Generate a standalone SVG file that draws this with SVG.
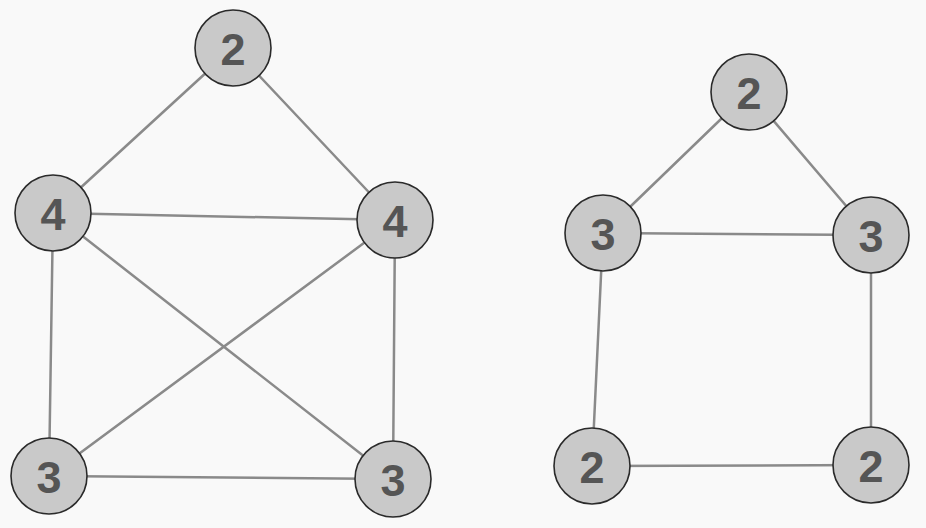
<svg xmlns="http://www.w3.org/2000/svg" width="926" height="528" viewBox="0 0 926 528">
<style>
.edge{stroke:#8a8a8a;stroke-width:2.5;fill:none;stroke-linecap:round}
.node circle{fill:#c9c9c9;stroke:#2a2a2a;stroke-width:1.6}
.node text{font-family:"Liberation Sans",Arial,sans-serif;font-weight:bold;font-size:45px;fill:#555;text-anchor:middle;dominant-baseline:central}
</style>
<rect width="926" height="528" fill="#f9f9f9"/>
<g id="connectors">
<line class="edge" x1="233" y1="48" x2="53" y2="213"/>
<line class="edge" x1="233" y1="48" x2="395" y2="220"/>
<line class="edge" x1="53" y1="213" x2="395" y2="220"/>
<line class="edge" x1="53" y1="213" x2="49" y2="476"/>
<line class="edge" x1="53" y1="213" x2="393" y2="479"/>
<line class="edge" x1="395" y1="220" x2="49" y2="476"/>
<line class="edge" x1="395" y1="220" x2="393" y2="479"/>
<line class="edge" x1="49" y1="476" x2="393" y2="479"/>
<line class="edge" x1="749" y1="92" x2="603" y2="233"/>
<line class="edge" x1="749" y1="92" x2="871" y2="235"/>
<line class="edge" x1="603" y1="233" x2="871" y2="235"/>
<line class="edge" x1="603" y1="233" x2="592" y2="466"/>
<line class="edge" x1="871" y1="235" x2="871" y2="465"/>
<line class="edge" x1="592" y1="466" x2="871" y2="465"/>
</g>
<g id="a_top" class="node"><circle cx="233" cy="48" r="38"/><text x="233" y="49">2</text></g>
<g id="a_left" class="node"><circle cx="53" cy="213" r="38"/><text x="53" y="214">4</text></g>
<g id="a_right" class="node"><circle cx="395" cy="220" r="38"/><text x="395" y="221">4</text></g>
<g id="a_bl" class="node"><circle cx="49" cy="476" r="38"/><text x="49" y="477">3</text></g>
<g id="a_br" class="node"><circle cx="393" cy="479" r="38"/><text x="393" y="480">3</text></g>
<g id="b_top" class="node"><circle cx="749" cy="92" r="38"/><text x="749" y="93">2</text></g>
<g id="b_left" class="node"><circle cx="603" cy="233" r="38"/><text x="603" y="234">3</text></g>
<g id="b_right" class="node"><circle cx="871" cy="235" r="38"/><text x="871" y="236">3</text></g>
<g id="b_bl" class="node"><circle cx="592" cy="466" r="38"/><text x="592" y="467">2</text></g>
<g id="b_br" class="node"><circle cx="871" cy="465" r="38"/><text x="871" y="466">2</text></g>
</svg>
